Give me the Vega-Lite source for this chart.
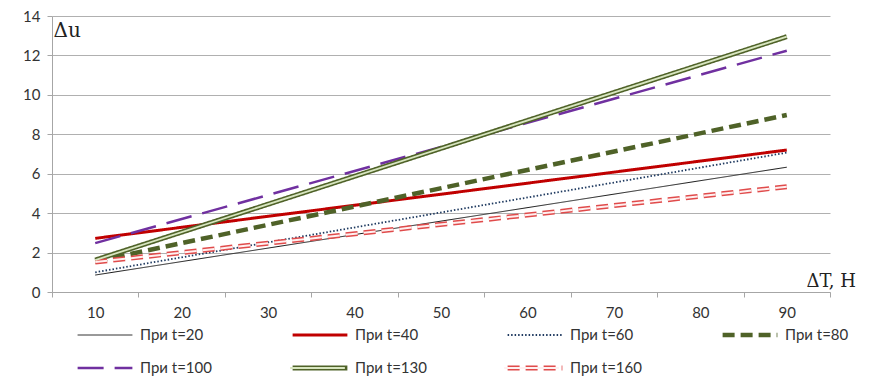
{
  "$schema": "https://vega.github.io/schema/vega-lite/v6.json",
  "width": 778,
  "height": 276,
  "autosize": "none",
  "padding": {"left": 52, "top": 16, "right": 39, "bottom": 89},
  "background": "white",
  "config": {"view": {"stroke": null}, "font": "Lato"},
  "data": {
    "values": [
      {"T": 10, "du": 0.86, "s": "При t=20"},
      {"T": 90, "du": 6.33, "s": "При t=20"},
      {"T": 10, "du": 2.72, "s": "При t=40"},
      {"T": 90, "du": 7.2, "s": "При t=40"},
      {"T": 10, "du": 1.0, "s": "При t=60"},
      {"T": 90, "du": 7.07, "s": "При t=60"},
      {"T": 10, "du": 1.55, "s": "При t=80"},
      {"T": 90, "du": 8.98, "s": "При t=80"},
      {"T": 10, "du": 2.48, "s": "При t=100"},
      {"T": 90, "du": 12.24, "s": "При t=100"},
      {"T": 10, "du": 1.62, "s": "При t=130"},
      {"T": 90, "du": 12.95, "s": "При t=130"},
      {"T": 10, "du": 1.52, "s": "При t=160"},
      {"T": 90, "du": 5.34, "s": "При t=160"}
    ]
  },
  "encoding": {
    "x": {
      "field": "T",
      "type": "quantitative",
      "scale": {"domain": [5, 95], "nice": false, "zero": false},
      "axis": {
        "values": [5, 10, 15, 20, 25, 30, 35, 40, 45, 50, 55, 60, 65, 70, 75, 80, 85, 90, 95],
        "labelExpr": "datum.value % 10 == 0 ? datum.label : ''",
        "tickOpacity": {"expr": "datum.value % 10 == 5 ? 1 : 0"},
        "grid": false,
        "domainColor": "#a6a6a6",
        "tickColor": "#a6a6a6",
        "tickSize": 5,
        "labelFontSize": 15,
        "labelColor": "#333333",
        "labelPadding": 8,
        "title": "ΔT, Н",
        "titleFont": "DejaVu Serif",
        "titleFontWeight": "normal",
        "titleFontSize": 18,
        "titleColor": "#222222",
        "titleX": 754,
        "titleY": -11,
        "titleAlign": "left",
        "titleBaseline": "middle"
      }
    },
    "y": {
      "field": "du",
      "type": "quantitative",
      "scale": {"domain": [0, 14], "nice": false},
      "axis": {
        "values": [0, 2, 4, 6, 8, 10, 12, 14],
        "grid": true,
        "gridColor": "#b0b0b0",
        "domainColor": "#a6a6a6",
        "tickColor": "#a6a6a6",
        "tickSize": 5,
        "labelFontSize": 15,
        "labelColor": "#333333",
        "labelPadding": 7,
        "title": "Δu",
        "titleFont": "DejaVu Serif",
        "titleFontWeight": "normal",
        "titleFontSize": 20,
        "titleColor": "#222222",
        "titleAngle": 0,
        "titleX": 1,
        "titleY": 14,
        "titleAlign": "left",
        "titleBaseline": "middle"
      }
    }
  },
  "layer": [
    {
      "mark": {"type": "line"},
      "encoding": {
        "color": {
          "field": "s",
          "type": "nominal",
          "scale": {
            "domain": ["При t=20", "При t=40", "При t=60", "При t=80", "При t=100", "При t=130", "При t=160"],
            "range": ["#1a1a1a", "#C00000", "#1F3A60", "#4F6228", "#7030A0", "#4F6228", "#E04B4B"]
          },
          "legend": {
            "title": null,
            "orient": "none",
            "legendX": 23,
            "legendY": 311,
            "zindex": 0,
            "direction": "horizontal",
            "columns": 4,
            "gridAlign": "all",
            "symbolType": "stroke",
            "symbolSize": 3000,
            "clipHeight": 16,
            "labelFontSize": 15,
            "labelColor": "#333333",
            "labelOffset": 5,
            "columnPadding": 78,
            "rowPadding": 17
          }
        },
        "strokeDash": {
          "field": "s",
          "type": "nominal",
          "scale": {
            "domain": ["При t=20", "При t=40", "При t=60", "При t=80", "При t=100", "При t=130", "При t=160"],
            "range": [[1, 0], [1, 0], [1.5, 2], [12, 6], [26, 11], [1, 0], [12, 6]]
          }
        },
        "strokeWidth": {
          "field": "s",
          "type": "nominal",
          "scale": {
            "type": "ordinal",
            "domain": ["При t=20", "При t=40", "При t=60", "При t=80", "При t=100", "При t=130", "При t=160"],
            "range": [1, 3, 1.8, 4.5, 2.5, 5, 5]
          }
        }
      }
    },
    {
      "transform": [{"filter": "datum.s == 'При t=130'"}],
      "mark": {"type": "line", "strokeWidth": 1.8},
      "encoding": {
        "stroke": {
          "field": "s",
          "type": "nominal",
          "scale": {
            "domain": ["При t=20", "При t=40", "При t=60", "При t=80", "При t=100", "При t=130", "При t=160", " "],
            "range": ["transparent", "transparent", "transparent", "transparent", "transparent", "#D8E6C0", "#FFF0F0", "transparent"]
          },
          "legend": {
            "title": null,
            "orient": "none",
            "legendX": 23,
            "legendY": 311,
            "zindex": 1,
            "direction": "horizontal",
            "columns": 4,
            "gridAlign": "all",
            "symbolType": "stroke",
            "symbolSize": 3000,
            "symbolStrokeWidth": 1.8,
            "clipHeight": 16,
            "labelExpr": "''",
            "labelFontSize": 15,
            "labelOffset": 5,
            "columnPadding": 152,
            "rowPadding": 17
          }
        }
      }
    },
    {
      "transform": [{"filter": "datum.s == 'При t=160'"}],
      "mark": {"type": "line", "color": "#FFF0F0", "strokeWidth": 2, "strokeDash": [12, 6]},
      "encoding": {}
    }
  ]
}
